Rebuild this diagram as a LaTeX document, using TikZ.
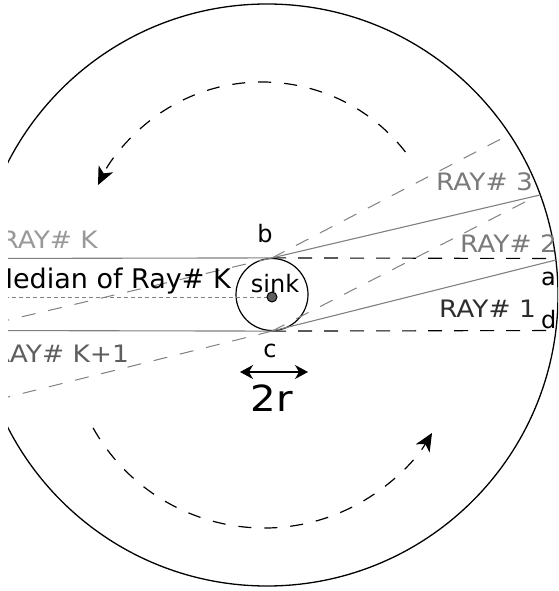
\documentclass[tikz,border=0pt]{standalone}
\usepackage{fontspec}
\usepackage{graphicx}
\setmainfont{DejaVu Sans}
\usetikzlibrary{arrows.meta}
\definecolor{raygray}{HTML}{808080}
\definecolor{lightlbl}{HTML}{999999}
\definecolor{midlbl}{HTML}{7A7A7A}
\definecolor{darklbl}{HTML}{5E5E5E}
\definecolor{blacklbl}{HTML}{2E2E2E}
\newcommand{\wlbl}[1]{\scalebox{1.1}[1]{#1}}
\begin{document}
\begin{tikzpicture}[x=1pt,y=-1pt,
  lbl/.style={inner sep=0pt, font=\fontsize{24}{28}\selectfont},
  raysolid/.style={draw=raygray, line width=1.1pt},
  raydash/.style={draw=raygray, line width=1pt, dash pattern=on 14pt off 13pt},
  blackdash/.style={draw=black, line width=1.1pt, dash pattern=on 14pt off 12pt},
  flowarc/.style={draw=black, line width=1.2pt, dash pattern=on 13pt off 13pt,
     -{Stealth[length=18pt,width=16pt,inset=5pt]}},
  median/.style={draw=raygray, line width=0.8pt, dash pattern=on 4pt off 3pt}]
\useasboundingbox (0,0) rectangle (558,591);
\clip (8,0) rectangle (558,591);
% big circle
\coordinate (O) at (267,295);
\draw[line width=1.3pt] (O) circle[radius=291];
% sink
\node[circle, draw, line width=1.2pt, minimum size=72pt, inner sep=0pt] (sink) at (272,294.5) {};
\coordinate (b) at (sink.north);
\coordinate (c) at (sink.south);
% ray end points
\coordinate (bL) at (-30,329);
\coordinate (bR) at (540.3,194.9);
\coordinate (cL) at (-30,406.5);
\coordinate (cR) at (555.9,260);
\coordinate (bS) at (509.7,134.4);
\coordinate (cS) at (537.5,195.6);
\coordinate (hbL) at (-30,258.5);
\coordinate (hbR) at (555.6,258.5);
\coordinate (hcL) at (-30,330.5);
\coordinate (hcR) at (555.8,330.5);
\coordinate (mL) at (-30,297);
% horizontal lines
\draw[raysolid] (hbL) -- (b);
\draw[raysolid] (hcL) -- (c);
\draw[blackdash] (b) -- (hbR);
\draw[blackdash] (c) -- (hcR);
% rays
\draw[raysolid] (b) -- (bR);
\draw[raysolid] (c) -- (cR);
\draw[raydash] (b) -- (bL);
\draw[raydash] (c) -- (cL);
\draw[raydash] (b) -- (bS);
\draw[raydash] (c) -- (cS);
% median
\coordinate (dotc) at (272,297);
\draw[median] (mL) -- (dotc);
\node[circle, draw=black, fill=darklbl, line width=1pt, minimum size=10pt, inner sep=0pt] (dot) at (dotc) {};
% flow arcs
\draw[flowarc] (262,264) ++(-38:182) arc[start angle=-38, end angle=-154.3, radius=182];
\draw[flowarc] (264,332) ++(150.7:196) arc[start angle=150.7, end angle=31, radius=196];
% 2r arrow
\coordinate (rl) at (240,372);
\coordinate (rr) at (308,372);
\draw[line width=1.3pt, {Stealth[length=13pt,width=14pt,inset=4pt]}-{Stealth[length=13pt,width=14pt,inset=4pt]}] (rl) -- (rr);
% labels
\node[lbl, text=lightlbl, anchor=base east] (rayk) at (98,248) {\wlbl{RAY\# K}};
\node[inner sep=0pt, font=\fontsize{27}{32}\selectfont, text=black, anchor=base east] (med) at (231,288) {Median of Ray\# K};
\node[lbl, text=darklbl, anchor=base east] (rayk1) at (129,362) {\wlbl{RAY\# K+1}};
\node[lbl, text=midlbl, anchor=base west] (ray3) at (436,190) {\wlbl{RAY\# 3}};
\node[lbl, text=midlbl, anchor=base west] (ray2) at (460,252) {\wlbl{RAY\# 2}};
\node[lbl, text=blacklbl, anchor=base west] (ray1) at (439,317) {\wlbl{RAY\# 1}};
\node[lbl, anchor=base west] (la) at (541,285) {a};
\node[lbl, anchor=base west] (ld) at (541,328) {d};
\node[lbl, anchor=base] (lb) at (265,242) {b};
\node[lbl, anchor=base] (lc) at (270,357) {c};
\node[lbl, anchor=base] (lsink) at (275,292) {sink};
\node[inner sep=0pt, font=\fontsize{36}{40}\selectfont, anchor=base] (l2r) at (272,411) {\scalebox{1.12}[1]{2r}};
\end{tikzpicture}
\end{document}
